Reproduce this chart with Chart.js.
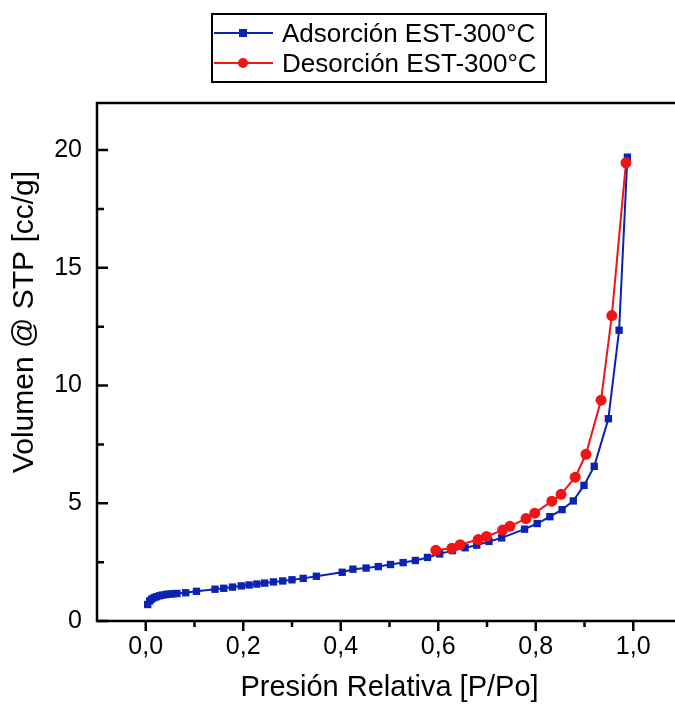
<!DOCTYPE html>
<html>
<head>
<meta charset="utf-8">
<script src="https://cdn.jsdelivr.net/npm/chart.js@4/dist/chart.umd.min.js"></script>
<style>
  html, body { margin: 0; padding: 0; background: #fff; overflow: hidden; }
  #wrap { position: relative; width: 690px; height: 706px; }
  #leyenda {
    position: absolute; left: 211px; top: 13px; width: 336px; height: 70px;
    border: 2px solid #000; box-sizing: border-box;
    font-family: "Liberation Sans", Arial, sans-serif; font-size: 26px; color: #000;
  }
  .fila { position: absolute; left: 0; width: 100%; height: 30px; line-height: 30px; }
  .linea { position: absolute; left: 1px; top: 14px; width: 59px; height: 2px; }
  .marca { position: absolute; }
  .texto { position: absolute; left: 69px; top: 0; white-space: nowrap; }
</style>
</head>
<body>
<div id="wrap">
  <canvas id="grafico" width="690" height="706"></canvas>
  <div id="leyenda">
    <div class="fila" style="top:3px">
      <span class="linea" style="background:#0c22b0"></span>
      <span class="marca" style="left:26px;top:11px;width:8px;height:8px;background:#0c22b0"></span>
      <span class="texto">Adsorción EST-300°C</span>
    </div>
    <div class="fila" style="top:33px">
      <span class="linea" style="background:#f01414"></span>
      <span class="marca" style="left:25px;top:10px;width:10px;height:10px;border-radius:50%;background:#f01414"></span>
      <span class="texto">Desorción EST-300°C</span>
    </div>
  </div>
</div>
<script>
// =============================
// DATOS
// =============================
const presionAds = [0.004, 0.008, 0.012, 0.017, 0.022, 0.028, 0.034, 0.040, 0.046, 0.052,
  0.058, 0.064, 0.082, 0.104, 0.142, 0.160, 0.178, 0.196, 0.212, 0.228,
  0.244, 0.262, 0.281, 0.300, 0.323, 0.350, 0.403, 0.425, 0.452, 0.477,
  0.502, 0.528, 0.553, 0.578, 0.603, 0.629, 0.655, 0.679, 0.704, 0.730,
  0.777, 0.803, 0.829, 0.854, 0.877, 0.899, 0.920, 0.949, 0.971, 0.988];
const volumenAds = [0.70, 0.85, 0.93, 0.99, 1.03, 1.07, 1.10, 1.12, 1.14, 1.15,
  1.16, 1.17, 1.20, 1.26, 1.35, 1.39, 1.44, 1.49, 1.53, 1.57,
  1.61, 1.66, 1.70, 1.75, 1.81, 1.90, 2.07, 2.20, 2.25, 2.31,
  2.40, 2.48, 2.57, 2.70, 2.85, 2.99, 3.11, 3.22, 3.38, 3.53,
  3.90, 4.14, 4.43, 4.73, 5.10, 5.76, 6.57, 8.59, 12.35, 19.70];

const presionDes = [0.985, 0.956, 0.934, 0.903, 0.881, 0.852, 0.833, 0.798,
  0.780, 0.747, 0.732, 0.699, 0.682, 0.645, 0.628, 0.595];
const volumenDes = [19.46, 12.97, 9.38, 7.08, 6.11, 5.38, 5.09, 4.58,
  4.35, 4.02, 3.86, 3.59, 3.46, 3.24, 3.09, 3.00];

const ticksX = [0, 0.1, 0.2, 0.3, 0.4, 0.5, 0.6, 0.7, 0.8, 0.9, 1.0];
const ticksY = [0, 2.5, 5, 7.5, 10, 12.5, 15, 17.5, 20];

const AZUL = "#0c22b0";
const ROJO = "#f01414";
const FUENTE = '"Liberation Sans", Arial, sans-serif';

const esMayorX = v => Math.round(v * 10) % 2 === 0;
const esMayorY = v => Math.round(v * 10) % 50 === 0;

// =============================
// MARCO, TICKS Y TITULO Y
// =============================
const marco = {
  id: "marco",
  afterDatasetsDraw(chart) {
    const { ctx, chartArea: a, scales: { x, y } } = chart;
    ctx.save();
    ctx.strokeStyle = "#000";
    ctx.lineWidth = 2.5;
    ctx.lineCap = "square";
    ctx.beginPath();
    ctx.moveTo(a.left, a.bottom); ctx.lineTo(a.left, a.top); ctx.lineTo(a.right, a.top);
    ctx.lineTo(a.right, a.bottom); ctx.lineTo(a.left, a.bottom);
    ctx.stroke();

    ctx.lineCap = "butt";
    ctx.beginPath();
    ticksX.forEach(v => {
      const px = x.getPixelForValue(v);
      ctx.moveTo(px, a.bottom);
      ctx.lineTo(px, a.bottom + (esMayorX(v) ? 10 : 6));
    });
    ticksY.forEach(v => {
      const py = y.getPixelForValue(v);
      ctx.moveTo(a.left, py);
      ctx.lineTo(a.left + (esMayorY(v) ? 11 : 7), py);
    });
    ctx.stroke();

    // titulo eje Y
    ctx.translate(25, 322);
    ctx.rotate(-Math.PI / 2);
    ctx.fillStyle = "#000";
    ctx.font = "30px " + FUENTE;
    ctx.textAlign = "center";
    ctx.textBaseline = "middle";
    ctx.fillText("Volumen @ STP [cc/g]", 0, 0);
    ctx.restore();
  }
};

// =============================
// GRAFICO
// =============================
new Chart(document.getElementById("grafico"), {
  type: "scatter",
  data: {
    datasets: [
      {
        label: "Adsorción EST-300°C",
        data: presionAds.map((p, i) => ({ x: p, y: volumenAds[i] })),
        showLine: true,
        borderColor: AZUL,
        backgroundColor: AZUL,
        borderWidth: 2,
        pointStyle: "rect",
        pointRadius: 5.2,
        pointBorderWidth: 0,
        order: 1
      },
      {
        label: "Desorción EST-300°C",
        data: presionDes.map((p, i) => ({ x: p, y: volumenDes[i] })),
        showLine: true,
        borderColor: ROJO,
        backgroundColor: ROJO,
        borderWidth: 2,
        pointStyle: "circle",
        pointRadius: 5.5,
        pointBorderWidth: 0,
        order: 0
      }
    ]
  },
  options: {
    responsive: false,
    animation: false,
    layout: { padding: { top: 103, right: 8, left: 0, bottom: 0 } },
    plugins: {
      legend: { display: false },
      tooltip: { enabled: false }
    },
    scales: {
      x: {
        type: "linear",
        min: -0.1,
        max: 1.1,
        afterBuildTicks: s => { s.ticks = ticksX.map(v => ({ value: v })); },
        afterFit: s => { s.height = 85; },
        grid: { display: false, drawTicks: false },
        border: { display: false },
        ticks: {
          autoSkip: false,
          maxRotation: 0,
          padding: 11,
          color: "#000",
          font: { family: FUENTE, size: 25 },
          callback: v => esMayorX(v) ? v.toFixed(1).replace(".", ",") : ""
        },
        title: {
          display: true,
          text: "Presión Relativa [P/Po]",
          color: "#000",
          font: { family: FUENTE, size: 29 },
          padding: { top: 0, bottom: 1 }
        }
      },
      y: {
        type: "linear",
        min: 0,
        max: 22,
        afterBuildTicks: s => { s.ticks = ticksY.map(v => ({ value: v })); },
        afterFit: s => { s.width = 97; },
        grid: { display: false, drawTicks: false },
        border: { display: false },
        ticks: {
          autoSkip: false,
          padding: 15,
          color: "#000",
          font: { family: FUENTE, size: 25 },
          callback: v => esMayorY(v) ? String(v) : ""
        }
      }
    }
  },
  plugins: [marco]
});
</script>
</body>
</html>
